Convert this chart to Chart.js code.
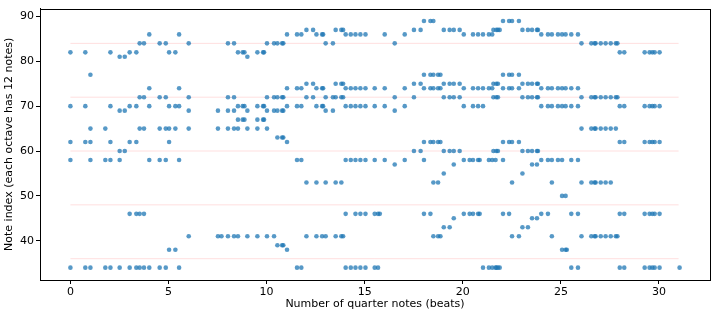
<!DOCTYPE html>
<html>
<head>
<meta charset="utf-8">
<script src="https://cdn.jsdelivr.net/npm/chart.js@4"></script>
<style>
  html, body { margin: 0; padding: 0; background: #fff; }
  #wrap { width: 717px; height: 317px; }
</style>
</head>
<body>
<div id="wrap"><canvas id="chart" width="717" height="317"></canvas></div>
<script>
// onset of each chord, in quarter notes
const beats = [
  0.00, 0.76, 1.02, 1.78, 2.04, 2.51, 2.77, 3.02, 3.36, 3.53, 3.75, 4.02, 4.55, 4.86,
  5.03, 5.35, 5.54, 6.03, 7.52, 7.70, 8.03, 8.34, 8.54, 8.78, 8.87, 9.02, 9.53, 9.82,
  9.87, 10.02, 10.38, 10.55, 10.79, 10.85, 11.04, 11.55, 11.77, 12.03, 12.37, 12.54,
  12.83, 12.88, 13.01, 13.38, 13.52, 13.81, 13.90, 14.03, 14.29, 14.53, 14.78, 15.04,
  15.51, 15.68, 15.77, 16.02, 16.53, 17.04, 17.51, 17.85, 18.02, 18.35, 18.50, 18.74,
  18.86, 19.03, 19.33, 19.54, 19.84, 20.05, 20.35, 20.52, 20.78, 20.86, 21.03, 21.33,
  21.50, 21.56, 21.67, 21.71, 21.79, 21.88, 22.05, 22.36, 22.51, 22.86, 23.04, 23.32,
  23.53, 23.78, 23.83, 24.00, 24.34, 24.54, 24.85, 25.06, 25.24, 25.30, 25.53, 25.87,
  26.05, 26.55, 26.72, 26.77, 27.03, 27.28, 27.54, 27.80, 27.88, 28.00, 28.23, 29.27,
  29.52, 29.66, 29.78, 30.03, 31.05
];

// note indices sounding at each onset
const chords = [
  [82,70,62,58,34], [82,70,62,34], [77,65,62,58,34], [65,58,34], [82,70,62,58,34],
  [81,69,60,58,34], [81,69,60], [82,70,62,46,34], [82,70,62,46,34], [84,72,65,46,34],
  [84,72,65,46,34], [86,74,70,58,34], [84,72,65,58,34], [84,72,65,58,34],
  [82,70,65,62,38], [82,70,65,38], [86,74,70,58,34], [84,72,69,65,41], [69,65,41], [41],
  [84,72,69,65,41], [84,72,69,65,41], [82,70,67,65,41], [82,70,67], [82,70,67],
  [81,69,65,41], [82,70,67,65,41], [82,70,67],
  [82,70,67], [84,72,69,65,41], [84,72,69,41], [84,72,69,63,39], [84,72,69,63,39],
  [84,72,69,63,39], [86,74,70,62,38], [86,74,70,58,34], [86,74,70,58,34],
  [87,75,72,53,41], [87,75,72], [86,74,70,53,41],
  [86,74,70,41], [86,74,70], [84,72,69,53,41], [84,72,69], [87,75,72,53,41],
  [87,75,72,53,41], [87,75,72,41], [86,74,70,58,46,34], [86,74,70,58,34],
  [86,74,70,58,46,34], [86,74,70,58,46,34], [86,74,70,58,46,34],
  [74,70,58,46,34], [46,34], [46], [86,74,70,58], [84,72,69,57], [86,74,70,58],
  [87,75,72,60], [87,75,60], [89,77,74,62,58,46], [89,77,74,62,46],
  [89,77,74,62,53,41], [77,74,62,53,41],
  [77,74,62,41], [87,75,72,60,55,43], [87,75,72,60,43], [87,75,72,60,57,45],
  [87,75,72,60], [86,74,70,58,46], [58,46], [86,74,70,58,46], [86,74,70,58,46],
  [58,46], [86,74,70,34], [86,74,58,34],
  [86,74,58,34], [87,75,72,60], [58,34], [87,75,72,60,34], [87,75,72,60,34], [87,34],
  [89,77,74,62,58,46], [89,77,74,62,46], [89,77,74,62,53,41], [89,77,74,62,41],
  [87,75,72,60,55,43], [87,75,72,60,43],
  [87,75,72,60,57,45], [87,75,72,60,57,45], [87,75,72,60], [86,74,70,58,46],
  [86,74,70,58,46], [86,74,70,58,53,41], [86,74,70,58], [86,74,70,58,50,38],
  [86,74,70,50,38], [38], [86,74,70,58,46,34], [86,74,70,58,46,34],
  [84,72,65,53,41], [84,72,65,53,41], [84,72,65,53,41], [84,72,65,53,41],
  [84,72,65,53,41], [84,72,65,53,41], [84,72,65,53,41], [84,72,65,41], [84,72,41],
  [82,70,62,46,34], [82,70,62,46,34], [82,70,62,46,34],
  [82,70,62,46,34], [82,70,62,46,34], [82,70,62,46,34], [82,70,62,46,34], [34]
];

// octave boundaries (C notes) drawn as faint red lines
const octaveLines = [36, 48, 60, 72, 84];
const lineStart = 0;
const lineEnd = 31;

const xTicks = [0, 5, 10, 15, 20, 25, 30];
const yTicks = [40, 50, 60, 70, 80, 90];

const points = [];
beats.forEach((b, i) => chords[i].forEach(n => points.push({ x: b, y: n })));

const lineSets = octaveLines.map(v => ({
  type: 'line',
  data: [{ x: lineStart, y: v }, { x: lineEnd, y: v }],
  borderColor: 'rgba(255,0,0,0.13)',
  borderWidth: 1,
  pointRadius: 0,
  order: 2
}));

const frame = {
  id: 'frame',
  afterDraw(chart) {
    const { ctx, chartArea: a } = chart;
    ctx.save();
    ctx.strokeStyle = '#000';
    ctx.lineWidth = 1;
    ctx.strokeRect(Math.round(a.left) + 0.5, Math.round(a.top) + 0.5,
      Math.round(a.right - a.left), Math.round(a.bottom - a.top));
    ctx.restore();
  }
};

const font = { family: 'DejaVu Sans', size: 11 };

new Chart(document.getElementById('chart'), {
  type: 'scatter',
  data: {
    datasets: [...lineSets, {
      data: points,
      backgroundColor: 'rgba(31,119,180,0.75)',
      borderWidth: 0,
      pointRadius: 2.3,
      order: 1
    }]
  },
  options: {
    responsive: false,
    animation: false,
    layout: { padding: { top: 8, right: 7, left: 0, bottom: 0 } },
    plugins: { legend: { display: false }, tooltip: { enabled: false } },
    scales: {
      x: {
        type: 'linear',
        min: -1.55,
        max: 32.6,
        afterFit: axis => { axis.height = 37; },
        afterBuildTicks: axis => { axis.ticks = xTicks.map(v => ({ value: v })); },
        grid: { drawOnChartArea: false, tickLength: 4, color: '#000' },
        border: { color: '#000' },
        ticks: { font, color: '#000', padding: 2, maxRotation: 0 },
        title: { display: true, text: 'Number of quarter notes (beats)', font, color: '#000', padding: { top: 2, bottom: 6 } }
      },
      y: {
        type: 'linear',
        min: 31.25,
        max: 91.75,
        afterFit: axis => { axis.width = 40; },
        afterBuildTicks: axis => { axis.ticks = yTicks.map(v => ({ value: v })); },
        grid: { drawOnChartArea: false, tickLength: 4, color: '#000' },
        border: { color: '#000' },
        ticks: { font, color: '#000', padding: 2 },
        title: { display: true, text: 'Note index (each octave has 12 notes)', font, color: '#000', padding: { top: 3, bottom: 2 } }
      }
    }
  },
  plugins: [frame]
});
</script>
</body>
</html>
